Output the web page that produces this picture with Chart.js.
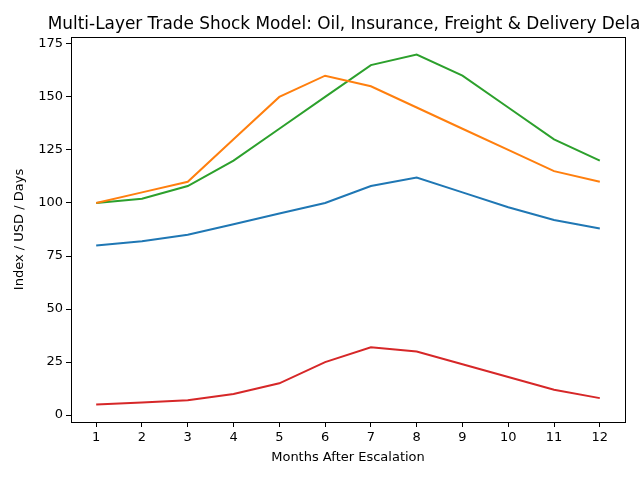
<!DOCTYPE html>
<html>
<head>
<meta charset="utf-8">
<script src="https://cdn.jsdelivr.net/npm/chart.js@4/dist/chart.umd.min.js"></script>
<style>
  html, body { margin: 0; padding: 0; background: #fff; }
  #wrap { width: 640px; height: 480px; position: relative; }
</style>
</head>
<body>
<div id="wrap"><canvas id="chart"></canvas></div>
<script>
const months = [1, 2, 3, 4, 5, 6, 7, 8, 9, 10, 11, 12];
const oilIndex = [80, 82, 85, 90, 95, 100, 108, 112, 105, 98, 92, 88];
const insurance = [100, 105, 110, 130, 150, 160, 155, 145, 135, 125, 115, 110];
const freight = [100, 102, 108, 120, 135, 150, 165, 170, 160, 145, 130, 120];
const deliveryDelay = [5, 6, 7, 10, 15, 25, 32, 30, 24, 18, 12, 8];
const yTicks = [0, 25, 50, 75, 100, 125, 150, 175];
const titleText = 'Multi-Layer Trade Shock Model: Oil, Insurance, Freight & Delivery Delay';

const font = 'DejaVu Sans';

function series(values, color) {
    return {
        data: months.map((m, i) => ({ x: m, y: values[i] })),
        borderColor: color,
        backgroundColor: color,
        borderWidth: 2,
        pointRadius: 0,
        fill: false,
        tension: 0
    };
}

// frame + title over the plot area (matplotlib style, title may run off the edge)
const framePlugin = {
    id: 'frame',
    afterDraw(chart) {
        const { ctx, chartArea: a } = chart;
        ctx.save();
        ctx.strokeStyle = '#000';
        ctx.lineWidth = 1;
        ctx.strokeRect(a.left + 0.5, a.top + 0.5, a.right - a.left, a.bottom - a.top);
        ctx.fillStyle = '#000';
        ctx.font = '16.9px "' + font + '"';
        ctx.textAlign = 'center';
        ctx.textBaseline = 'alphabetic';
        ctx.fillText(titleText, (a.left + a.right) / 2 + 1, a.top - 8);
        ctx.restore();
    }
};

new Chart(document.getElementById('chart').getContext('2d'), {
    type: 'line',
    data: {
        datasets: [
            series(oilIndex, '#1f77b4'),
            series(insurance, '#ff7f0e'),
            series(freight, '#2ca02c'),
            series(deliveryDelay, '#d62728')
        ]
    },
    options: {
        responsive: true,
        maintainAspectRatio: false,
        animation: false,
        layout: { padding: { top: 37, right: 15, left: 0, bottom: 0 } },
        plugins: {
            legend: { display: false },
            title: { display: false },
            tooltip: { enabled: false }
        },
        scales: {
            x: {
                type: 'linear',
                min: 0.45,
                max: 12.55,
                afterBuildTicks: (s) => { s.ticks = months.map(v => ({ value: v })); },
                afterFit: (s) => { s.height = 58; },
                grid: { drawOnChartArea: false, drawTicks: true, tickLength: 5, color: '#000' },
                border: { display: true, color: '#000' },
                ticks: { color: '#000', font: { family: font, size: 13 }, padding: 3, maxRotation: 0 },
                title: { display: true, text: 'Months After Escalation', color: '#000', font: { family: font, size: 13 }, padding: { top: 15, bottom: 15 } }
            },
            y: {
                type: 'linear',
                min: -3.25,
                max: 178.25,
                afterBuildTicks: (s) => { s.ticks = yTicks.map(v => ({ value: v })); },
                afterFit: (s) => { s.width = 71; },
                grid: { drawOnChartArea: false, drawTicks: true, tickLength: 5, color: '#000' },
                border: { display: true, color: '#000' },
                ticks: { color: '#000', font: { family: font, size: 13 }, padding: 3 },
                title: { display: true, text: 'Index / USD / Days', color: '#000', font: { family: font, size: 13 }, padding: { top: 12, bottom: 12 } }
            }
        }
    },
    plugins: [framePlugin]
});
</script>
</body>
</html>
